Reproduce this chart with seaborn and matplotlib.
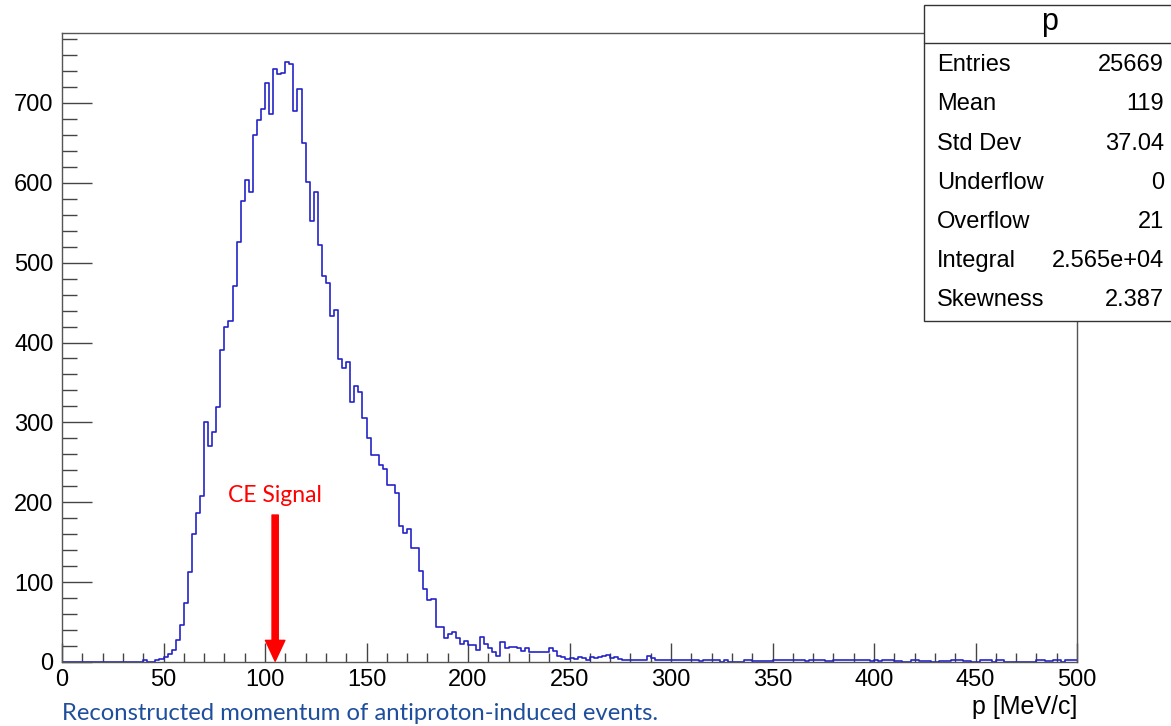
import numpy as np
import pandas as pd
import matplotlib
matplotlib.use("Agg")
import matplotlib.pyplot as plt
from matplotlib.ticker import MultipleLocator
from matplotlib.patches import Rectangle
from matplotlib.lines import Line2D
import seaborn as sns

# histogram p: 250 bins of 2 MeV/c between 0 and 500
bin_edges = np.arange(0, 502, 2)
counts = [
    0, 0, 0, 0, 0, 0, 0, 0, 0, 0,
    0, 0, 0, 0, 0, 0, 0, 0, 0, 0,
    3, 0, 0, 2, 4, 6, 10, 15, 27, 46,
    74, 113, 160, 187, 208, 300, 270, 288, 319, 391,
    420, 427, 471, 526, 577, 604, 589, 660, 678, 692,
    725, 686, 742, 736, 737, 751, 749, 690, 717, 650,
    601, 552, 588, 522, 483, 475, 433, 441, 379, 368,
    376, 325, 346, 338, 305, 280, 259, 259, 247, 242,
    221, 222, 211, 170, 162, 166, 143, 143, 114, 92,
    78, 79, 44, 44, 30, 35, 37, 30, 23, 26,
    21, 21, 15, 31, 23, 17, 13, 8, 25, 17,
    19, 19, 17, 14, 17, 13, 13, 13, 12, 12,
    17, 14, 7, 6, 4, 5, 4, 6, 5, 2,
    6, 5, 6, 7, 9, 5, 6, 4, 2, 3,
    3, 2, 2, 2, 8, 5, 3, 2, 3, 2,
    2, 2, 3, 2, 2, 2, 2, 1, 2, 2,
    3, 2, 0, 3, 0, 0, 0, 0, 3, 3,
    1, 1, 1, 1, 1, 3, 2, 3, 2, 3,
    3, 2, 2, 1, 2, 2, 2, 3, 1, 1,
    3, 2, 3, 3, 3, 2, 2, 2, 2, 1,
    2, 1, 3, 3, 2, 1, 1, 0, 0, 3,
    2, 1, 1, 1, 0, 0, 1, 1, 1, 3,
    3, 2, 1, 1, 0, 0, 2, 2, 2, 0,
    2, 2, 0, 0, 0, 0, 0, 0, 0, 0,
    2, 2, 1, 1, 3, 3, 0, 3, 3, 3,
]
bin_centers = (bin_edges[:-1] + bin_edges[1:]) / 2

stat_names = ["Entries", "Mean", "Std Dev", "Underflow", "Overflow", "Integral", "Skewness"]
stat_values = ["25669", "119", "37.04", "0", "21", "2.565e+04", "2.387"]

signal_p = 105

df = pd.DataFrame({"p": bin_centers, "n": counts})

sns.set_style("white")
plt.rcParams['font.family'] = ['Liberation Sans', 'DejaVu Sans']
plt.rcParams['text.color'] = 'black'
plt.rcParams['axes.labelcolor'] = 'black'
plt.rcParams['xtick.labelcolor'] = 'black'
plt.rcParams['ytick.labelcolor'] = 'black'

W, H = 1171, 726
fig = plt.figure(figsize=(W / 100, H / 100), dpi=100)
ax = fig.add_axes([62 / W, 1 - 662 / H, (1077 - 62) / W, (662 - 33) / H])

sns.histplot(data=df, x="p", weights="n", binwidth=2, binrange=(0, 500),
             element="step", fill=False, color="#2424c8", linewidth=1.2, ax=ax)

ax.set_xlim(0, 500)
ax.set_ylim(0, 787.5)
ax.set_ylabel("")
ax.set_xlabel("p [MeV/c]", loc="right", fontsize=18, labelpad=3)

ax.xaxis.set_major_locator(MultipleLocator(50))
ax.xaxis.set_minor_locator(MultipleLocator(10))
ax.yaxis.set_major_locator(MultipleLocator(100))
ax.yaxis.set_minor_locator(MultipleLocator(20))
ax.tick_params(axis="both", which="both", direction="in", color="#444444",
               width=1, labelsize=17, bottom=True, left=True, top=False, right=False)
ax.tick_params(axis="x", which="major", length=13.7, pad=5)
ax.tick_params(axis="x", which="minor", length=6.8)
ax.tick_params(axis="y", which="major", length=21.6, pad=6)
ax.tick_params(axis="y", which="minor", length=10.8)
for s in ax.spines.values():
    s.set_color("#555555")
    s.set_linewidth(1)

# CE signal marker
ax.annotate("", xy=(signal_p, 1), xytext=(signal_p, 184),
            arrowprops=dict(facecolor="red", edgecolor="red", width=4.5,
                            headwidth=14, headlength=15))
ax.text(signal_p, 208, "CE Signal", color="red", fontsize=16.5,
        family=["Lato", "DejaVu Sans"], ha="center", va="center")

fig.text(62 / W, 1 - 714 / H, "Reconstructed momentum of antiproton-induced events.",
         color="#1f4e9c", fontsize=17.2, family=["Lato", "DejaVu Sans"],
         ha="left", va="center")

# stats box
box = Rectangle((924 / W, 1 - 321 / H), (W - 924) / W + 0.01, (321 - 5) / H,
                transform=fig.transFigure, facecolor="white", edgecolor="#333333",
                linewidth=1, zorder=5)
fig.add_artist(box)
fig.add_artist(Line2D([924 / W, 1.0], [1 - 43 / H] * 2, transform=fig.transFigure,
                      color="#333333", linewidth=1, zorder=6))
fig.text(1050 / W, 1 - 22 / H, "p", fontsize=22, ha="center", va="center", zorder=7)
row_y = [65, 104, 144, 183, 222, 261, 300]
for name, val, y in zip(stat_names, stat_values, row_y):
    fig.text(937 / W, 1 - y / H, name, fontsize=17, ha="left", va="center", zorder=7)
    fig.text(1164 / W, 1 - y / H, val, fontsize=17, ha="right", va="center", zorder=7)

fig.savefig("out.png", dpi=100)
